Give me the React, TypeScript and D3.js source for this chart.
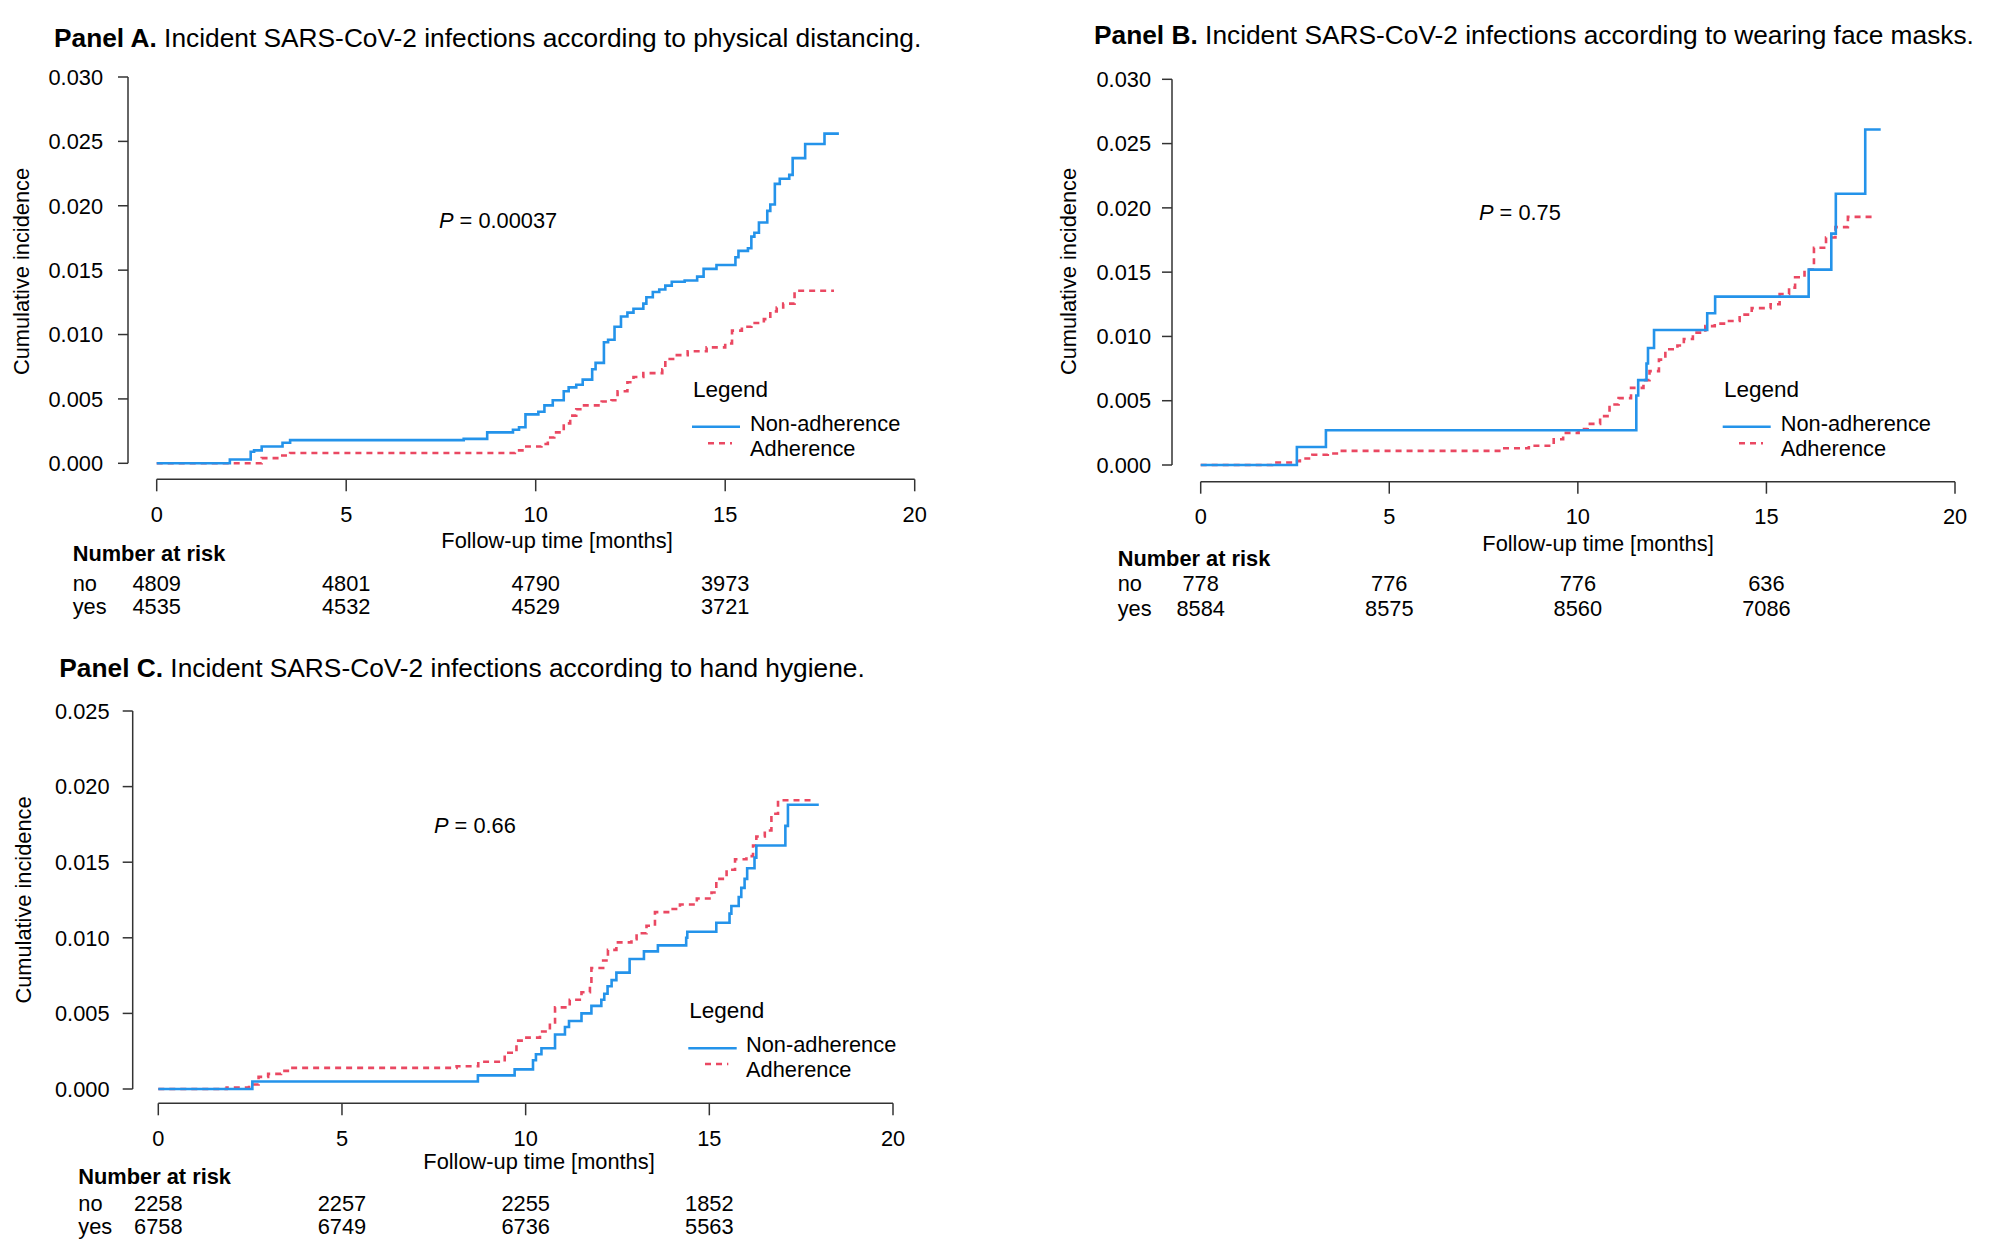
import React from "react";
import * as d3 from "d3";

// ---------- DATA ----------
const xTicks = [0, 5, 10, 15, 20];
const riskTimes = [0, 5, 10, 15];
const yTicksAB = [0, 0.005, 0.01, 0.015, 0.02, 0.025, 0.03];
const yTicksC = [0, 0.005, 0.01, 0.015, 0.02, 0.025];

const titleA = "Incident SARS-CoV-2 infections according to physical distancing.";
const titleB = "Incident SARS-CoV-2 infections according to wearing face masks.";
const titleC = "Incident SARS-CoV-2 infections according to hand hygiene.";

const pA = "0.00037";
const pB = "0.75";
const pC = "0.66";

const riskNoA = [4809, 4801, 4790, 3973];
const riskYesA = [4535, 4532, 4529, 3721];
const riskNoB = [778, 776, 776, 636];
const riskYesB = [8584, 8575, 8560, 7086];
const riskNoC = [2258, 2257, 2255, 1852];
const riskYesC = [6758, 6749, 6736, 5563];

// [time (months), cumulative incidence]
const nonAdhA: [number, number][] = [
  [0, 0], [1.93, 0.0003], [2.48, 0.0009], [2.57, 0.001], [2.77, 0.0013], [3.32, 0.0016], [3.52, 0.0018],
  [8.1, 0.0019], [8.72, 0.0024], [9.4, 0.0026], [9.56, 0.0028], [9.73, 0.0038], [10.07, 0.004],
  [10.23, 0.0045], [10.45, 0.0049], [10.74, 0.0056], [10.87, 0.0059], [11.07, 0.0061], [11.24, 0.0065],
  [11.49, 0.0073], [11.58, 0.0078], [11.8, 0.0094], [11.91, 0.0096], [12.08, 0.0106], [12.25, 0.0114],
  [12.42, 0.0117], [12.58, 0.012], [12.84, 0.0124], [12.92, 0.0129], [13.09, 0.0133], [13.26, 0.0135],
  [13.42, 0.0138], [13.59, 0.0141], [13.93, 0.0142], [14.26, 0.0145], [14.43, 0.0151], [14.77, 0.0154],
  [15.27, 0.016], [15.35, 0.0165], [15.6, 0.0167], [15.69, 0.0176], [15.77, 0.0179], [15.89, 0.0187],
  [16.11, 0.0196], [16.19, 0.0201], [16.31, 0.0217], [16.44, 0.0221], [16.69, 0.0224], [16.78, 0.0237],
  [17.11, 0.0248], [17.62, 0.0256], [18.0, 0.0256],
];
const adhA: [number, number][] = [
  [0, 0], [2.77, 0.0004], [3.27, 0.0006], [3.52, 0.0008], [9.45, 0.001], [9.65, 0.0013], [10.15, 0.0015],
  [10.32, 0.002], [10.49, 0.0024], [10.74, 0.0031], [10.91, 0.0037], [11.07, 0.0042], [11.24, 0.0045],
  [11.74, 0.0048], [12.0, 0.0049], [12.16, 0.0056], [12.42, 0.0063], [12.58, 0.0067], [12.84, 0.007],
  [13.34, 0.0073], [13.42, 0.0081], [13.67, 0.0084], [14.01, 0.0087], [14.51, 0.009], [15.0, 0.0093],
  [15.18, 0.0103], [15.44, 0.0106], [15.69, 0.0109], [16.02, 0.0112], [16.19, 0.0118], [16.36, 0.0121],
  [16.53, 0.0124], [16.83, 0.0134], [17.87, 0.0134],
];
const nonAdhB: [number, number][] = [
  [0, 0], [2.55, 0.0014], [3.32, 0.0027], [11.55, 0.0054], [11.6, 0.0066], [11.82, 0.0079], [11.86, 0.0091],
  [12.02, 0.0105], [13.43, 0.0118], [13.64, 0.0131], [16.12, 0.0152], [16.72, 0.018], [16.84, 0.0211],
  [17.62, 0.0261], [18.03, 0.0261],
];
const adhB: [number, number][] = [
  [0, 0], [1.89, 0.0002], [2.46, 0.0003], [2.63, 0.0005], [2.96, 0.0008], [3.37, 0.0009], [3.61, 0.0011],
  [8.05, 0.0013], [8.7, 0.0015], [9.36, 0.002], [9.61, 0.0025], [10.02, 0.0028], [10.26, 0.0032],
  [10.59, 0.0038], [10.84, 0.0047], [11.08, 0.0052], [11.41, 0.006], [11.74, 0.0066], [11.9, 0.0073],
  [12.15, 0.0082], [12.32, 0.009], [12.64, 0.0093], [12.81, 0.0098], [13.05, 0.0103], [13.38, 0.0108],
  [13.63, 0.011], [13.96, 0.0112], [14.29, 0.0117], [14.61, 0.0122], [15.11, 0.0125], [15.35, 0.0133],
  [15.6, 0.0138], [15.76, 0.0146], [16.01, 0.0152], [16.26, 0.0169], [16.58, 0.0177], [16.83, 0.0185],
  [17.16, 0.0193], [17.82, 0.0193],
];
const nonAdhC: [number, number][] = [
  [0, 0], [2.56, 0.0005], [8.7, 0.0009], [9.7, 0.0013], [10.2, 0.0019], [10.28, 0.0023], [10.43, 0.0027],
  [10.8, 0.0036], [11.07, 0.0041], [11.18, 0.0045], [11.52, 0.005], [11.79, 0.0055], [12.06, 0.0059],
  [12.14, 0.0063], [12.23, 0.0068], [12.34, 0.0072], [12.47, 0.0077], [12.83, 0.0086], [13.22, 0.0091],
  [13.6, 0.0095], [14.37, 0.01], [14.4, 0.0104], [15.19, 0.011], [15.55, 0.0116], [15.6, 0.0121],
  [15.8, 0.0127], [15.87, 0.0133], [15.96, 0.0139], [16.03, 0.0146], [16.23, 0.0153], [16.28, 0.0161],
  [17.07, 0.0174], [17.14, 0.0188], [17.98, 0.0188],
];
const adhC: [number, number][] = [
  [0, 0], [1.86, 0.0001], [2.47, 0.0003], [2.73, 0.0008], [2.99, 0.001], [3.34, 0.0012], [3.6, 0.0014],
  [8.12, 0.0015], [8.71, 0.0018], [9.43, 0.0024], [9.75, 0.0032], [10.02, 0.0034], [10.39, 0.0038],
  [10.66, 0.0044], [10.8, 0.0054], [11.2, 0.0059], [11.52, 0.0064], [11.75, 0.0069], [11.79, 0.008],
  [12.11, 0.0085], [12.24, 0.0092], [12.47, 0.0097], [12.88, 0.0099], [13.02, 0.0103], [13.29, 0.0108],
  [13.52, 0.0117], [13.93, 0.0119], [14.2, 0.0122], [14.66, 0.0126], [15.06, 0.013], [15.19, 0.0139],
  [15.47, 0.0145], [15.7, 0.0152], [16.01, 0.0154], [16.19, 0.0161], [16.28, 0.0167], [16.51, 0.0171],
  [16.69, 0.0182], [16.87, 0.0191], [17.82, 0.0191],
];

// ---------- STYLE ----------
const BLUE = "#2493ea";
const RED = "#ea4862";
const AXIS = "#333333";
const FONT = "'Liberation Sans', Arial, Helvetica, sans-serif";

type Layout = {
  label: string; title: string; p: string;
  nonAdh: [number, number][]; adh: [number, number][];
  riskNo: number[]; riskYes: number[]; yTicks: number[];
  yAxisX: number; x0: number; x20: number; y0: number; yTop: number; xAxisY: number;
  titleX: number; titleY: number; yLabRight: number;
  xLab: [number, number]; riskX: number; riskY: [number, number, number];
  yTitle: [number, number]; pPos: [number, number];
  legTitle: [number, number]; legBlue: [number, number, number]; legRed: [number, number, number];
  legTextX: number; legTextY: [number, number];
};

const panels: Layout[] = [
  {
    label: "Panel A.", title: titleA, p: pA, nonAdh: nonAdhA, adh: adhA, riskNo: riskNoA, riskYes: riskYesA,
    yTicks: yTicksAB, yAxisX: 128, x0: 156.7, x20: 914.7, y0: 463.3, yTop: 77, xAxisY: 479.3,
    titleX: 54, titleY: 47, yLabRight: 103, xLab: [557, 542], riskX: 72.7, riskY: [555, 585.7, 608],
    yTitle: [23, 271.5], pPos: [439, 221.5], legTitle: [693, 391], legBlue: [692, 740, 426.7],
    legRed: [708, 732, 443.3], legTextX: 750, legTextY: [425, 450.7],
  },
  {
    label: "Panel B.", title: titleB, p: pB, nonAdh: nonAdhB, adh: adhB, riskNo: riskNoB, riskYes: riskYesB,
    yTicks: yTicksAB, yAxisX: 1172, x0: 1200.7, x20: 1955, y0: 465, yTop: 79.3, xAxisY: 481.7,
    titleX: 1094, titleY: 43.5, yLabRight: 1151, xLab: [1598, 545.5], riskX: 1117.7, riskY: [560, 585.7, 610],
    yTitle: [1070.6, 271.5], pPos: [1479, 214], legTitle: [1724, 391], legBlue: [1722.7, 1770.7, 426.7],
    legRed: [1739, 1763, 443.3], legTextX: 1780.7, legTextY: [425, 450.7],
  },
  {
    label: "Panel C.", title: titleC, p: pC, nonAdh: nonAdhC, adh: adhC, riskNo: riskNoC, riskYes: riskYesC,
    yTicks: yTicksC, yAxisX: 132.7, x0: 158.3, x20: 893, y0: 1089, yTop: 711, xAxisY: 1103.3,
    titleX: 59.3, titleY: 677, yLabRight: 109.5, xLab: [539, 1163], riskX: 78.3, riskY: [1178.3, 1205.7, 1228.3],
    yTitle: [25.6, 900], pPos: [434, 827], legTitle: [689.3, 1011.7], legBlue: [688.3, 736.7, 1048.3],
    legRed: [705, 728.3, 1064], legTextX: 746, legTextY: [1046, 1071.7],
  },
];

function Panel({ L }: { L: Layout }) {
  const yMax = L.yTicks[L.yTicks.length - 1];
  const x = d3.scaleLinear().domain([0, 20]).range([L.x0, L.x20]);
  const y = d3.scaleLinear().domain([0, yMax]).range([L.y0, L.yTop]);
  const line = d3.line<[number, number]>().x((d) => x(d[0])).y((d) => y(d[1])).curve(d3.curveStepAfter);
  const fs = 21.8;
  return (
    <g fontFamily={FONT} fill="#000">
      <text x={L.titleX} y={L.titleY} fontSize={26.3}>
        <tspan fontWeight="bold">{L.label}</tspan>
        <tspan>{" " + L.title}</tspan>
      </text>
      {/* y axis */}
      <line x1={L.yAxisX} x2={L.yAxisX} y1={y(0)} y2={y(yMax)} stroke={AXIS} strokeWidth={1.5} />
      {L.yTicks.map((t) => (
        <g key={"y" + t}>
          <line x1={L.yAxisX - 10} x2={L.yAxisX} y1={y(t)} y2={y(t)} stroke={AXIS} strokeWidth={1.5} />
          <text x={L.yLabRight} y={y(t) + 2} fontSize={fs} textAnchor="end" dominantBaseline="middle">
            {d3.format(".3f")(t)}
          </text>
        </g>
      ))}
      {/* x axis */}
      <line x1={x(0)} x2={x(20)} y1={L.xAxisY} y2={L.xAxisY} stroke={AXIS} strokeWidth={1.5} />
      {xTicks.map((t) => (
        <g key={"x" + t}>
          <line x1={x(t)} x2={x(t)} y1={L.xAxisY} y2={L.xAxisY + 12} stroke={AXIS} strokeWidth={1.5} />
          <text x={x(t)} y={L.xAxisY + 37} fontSize={fs} textAnchor="middle" dominantBaseline="middle">
            {t}
          </text>
        </g>
      ))}
      <text x={L.xLab[0]} y={L.xLab[1]} fontSize={fs} textAnchor="middle" dominantBaseline="middle">
        Follow-up time [months]
      </text>
      <text
        transform={`translate(${L.yTitle[0]},${L.yTitle[1]}) rotate(-90)`}
        fontSize={fs} textAnchor="middle" dominantBaseline="middle"
      >
        Cumulative incidence
      </text>
      {/* curves */}
      <path d={line(L.adh) || ""} fill="none" stroke={RED} strokeWidth={2.6} strokeDasharray="6,5" />
      <path d={line(L.nonAdh) || ""} fill="none" stroke={BLUE} strokeWidth={2.6} />
      {/* p value */}
      <text x={L.pPos[0]} y={L.pPos[1]} fontSize={fs} dominantBaseline="middle">
        <tspan fontStyle="italic">P</tspan>
        <tspan>{" = " + L.p}</tspan>
      </text>
      {/* legend */}
      <text x={L.legTitle[0]} y={L.legTitle[1]} fontSize={22.5} dominantBaseline="middle">Legend</text>
      <line x1={L.legBlue[0]} x2={L.legBlue[1]} y1={L.legBlue[2]} y2={L.legBlue[2]} stroke={BLUE} strokeWidth={2.6} />
      <line x1={L.legRed[0]} x2={L.legRed[1]} y1={L.legRed[2]} y2={L.legRed[2]} stroke={RED} strokeWidth={2.6} strokeDasharray="6,5" />
      <text x={L.legTextX} y={L.legTextY[0]} fontSize={fs} dominantBaseline="middle">Non-adherence</text>
      <text x={L.legTextX} y={L.legTextY[1]} fontSize={fs} dominantBaseline="middle">Adherence</text>
      {/* risk table */}
      <text x={L.riskX} y={L.riskY[0]} fontSize={fs} fontWeight="bold" dominantBaseline="middle">Number at risk</text>
      <text x={L.riskX} y={L.riskY[1]} fontSize={fs} dominantBaseline="middle">no</text>
      <text x={L.riskX} y={L.riskY[2]} fontSize={fs} dominantBaseline="middle">yes</text>
      {riskTimes.map((t, i) => (
        <g key={"r" + t}>
          <text x={x(t)} y={L.riskY[1]} fontSize={fs} textAnchor="middle" dominantBaseline="middle">{L.riskNo[i]}</text>
          <text x={x(t)} y={L.riskY[2]} fontSize={fs} textAnchor="middle" dominantBaseline="middle">{L.riskYes[i]}</text>
        </g>
      ))}
    </g>
  );
}

export default function App() {
  return (
    <div style={{ position: "absolute", left: 0, top: 0 }}>
      <svg width={2008} height={1253} style={{ display: "block", background: "#fff" }}>
        <rect width={2008} height={1253} fill="#fff" />
        {panels.map((L) => (
          <Panel key={L.label} L={L} />
        ))}
      </svg>
    </div>
  );
}
